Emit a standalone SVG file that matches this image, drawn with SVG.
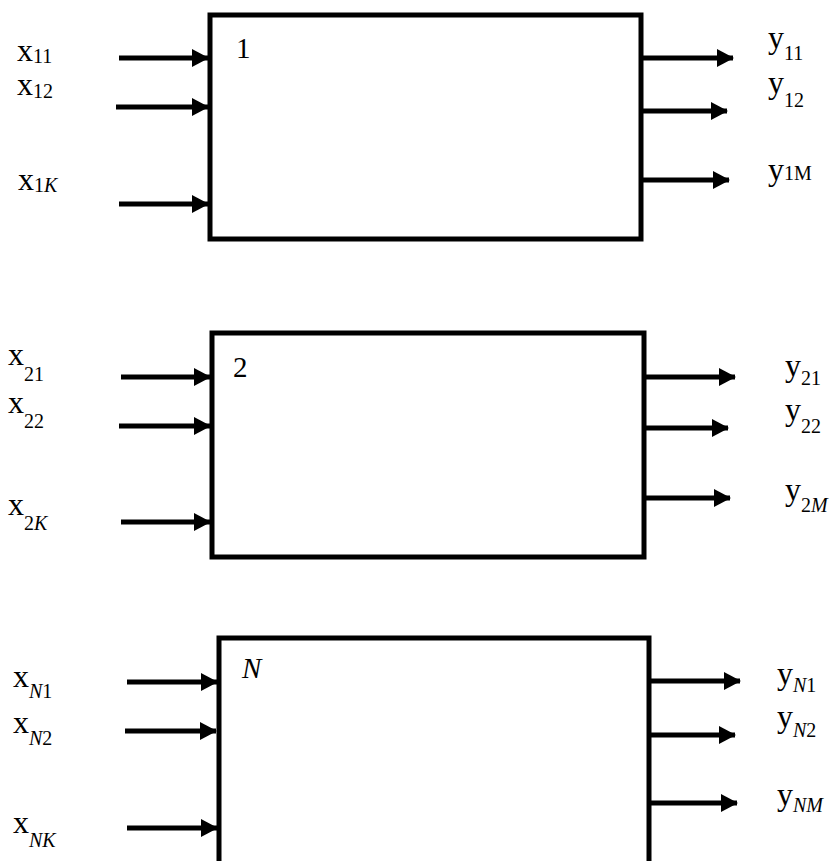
<svg xmlns="http://www.w3.org/2000/svg" width="832" height="861" viewBox="0 0 832 861">
<style>
.box{fill:#fff;stroke:#000;stroke-width:5}
.ar{stroke:#000;stroke-width:5;fill:none;marker-end:url(#ah)}
text{font-family:"Liberation Serif","Times New Roman",serif;fill:#000}
.m{font-size:32px}
.s{font-size:20px}
.i{font-style:italic}
.bl{font-size:29px}
</style>
<defs>
<marker id="ah" markerUnits="userSpaceOnUse" markerWidth="18" markerHeight="20" refX="16" refY="9" orient="auto">
<polygon points="0,0 17,9 0,18" fill="#000"/>
</marker>
</defs>
<g id="node1">
<rect class="box" x="210" y="15" width="431" height="224"/>
<text class="bl" x="236" y="58">1</text>
</g>
<g id="node2">
<rect class="box" x="212" y="333" width="432" height="224"/>
<text class="bl" x="233" y="377">2</text>
</g>
<g id="nodeN">
<rect class="box" x="219" y="638" width="430" height="250"/>
<text class="bl i" x="242" y="678">N</text>
</g>
<g id="connectors">
<line class="ar" x1="119" y1="58" x2="208" y2="58"/>
<line class="ar" x1="116" y1="107" x2="208" y2="107"/>
<line class="ar" x1="119" y1="204" x2="208" y2="204"/>
<line class="ar" x1="643" y1="58" x2="733" y2="58"/>
<line class="ar" x1="643" y1="111" x2="727" y2="111"/>
<line class="ar" x1="643" y1="180" x2="729" y2="180"/>
<line class="ar" x1="121" y1="377" x2="210" y2="377"/>
<line class="ar" x1="119" y1="426" x2="210" y2="426"/>
<line class="ar" x1="121" y1="522" x2="210" y2="522"/>
<line class="ar" x1="646" y1="377" x2="735" y2="377"/>
<line class="ar" x1="646" y1="428" x2="728" y2="428"/>
<line class="ar" x1="646" y1="498" x2="730" y2="498"/>
<line class="ar" x1="127" y1="682" x2="217" y2="682"/>
<line class="ar" x1="125" y1="731" x2="216" y2="731"/>
<line class="ar" x1="127" y1="828" x2="217" y2="828"/>
<line class="ar" x1="651" y1="681" x2="740" y2="681"/>
<line class="ar" x1="651" y1="735" x2="735" y2="735"/>
<line class="ar" x1="651" y1="803" x2="737" y2="803"/>
</g>
<g id="labels">
<text class="m" x="17" y="61">x<tspan class="s" x="33" y="63">11</tspan></text>
<text class="m" x="17" y="95">x<tspan class="s" x="33" y="98">12</tspan></text>
<text class="m" x="18" y="190">x<tspan class="s" x="34" y="192">1<tspan class="i">K</tspan></tspan></text>
<text class="m" x="768" y="48">y<tspan class="s" x="784" y="60">11</tspan></text>
<text class="m" x="768" y="93">y<tspan class="s" x="784" y="107">12</tspan></text>
<text class="m" x="768" y="180">y<tspan class="s" x="784" y="180">1M</tspan></text>
<text class="m" x="8" y="365">x<tspan class="s" x="24" y="381">21</tspan></text>
<text class="m" x="8" y="413">x<tspan class="s" x="24" y="428">22</tspan></text>
<text class="m" x="8" y="515">x<tspan class="s" x="24" y="530">2<tspan class="i">K</tspan></tspan></text>
<text class="m" x="785" y="376">y<tspan class="s" x="801" y="385">21</tspan></text>
<text class="m" x="785" y="420">y<tspan class="s" x="801" y="433">22</tspan></text>
<text class="m" x="785" y="500">y<tspan class="s" x="801" y="512">2<tspan class="i">M</tspan></tspan></text>
<text class="m" x="13" y="687">x<tspan class="s" x="29" y="698"><tspan class="i">N</tspan>1</tspan></text>
<text class="m" x="13" y="733">x<tspan class="s" x="29" y="745"><tspan class="i">N</tspan>2</tspan></text>
<text class="m" x="13" y="833">x<tspan class="s" x="29" y="847"><tspan class="i">NK</tspan></tspan></text>
<text class="m" x="777" y="684">y<tspan class="s" x="793" y="692"><tspan class="i">N</tspan>1</tspan></text>
<text class="m" x="777" y="727">y<tspan class="s" x="793" y="737"><tspan class="i">N</tspan>2</tspan></text>
<text class="m" x="777" y="805">y<tspan class="s" x="793" y="812"><tspan class="i">NM</tspan></tspan></text>
</g>
</svg>
